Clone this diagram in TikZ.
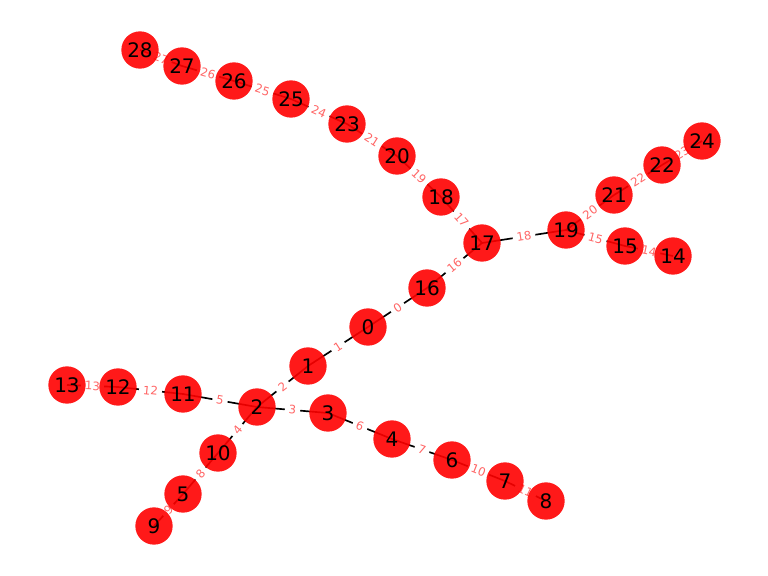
\documentclass[tikz,border=0pt]{standalone}
\usepackage{fontspec}
\setmainfont{DejaVu Sans}
\usetikzlibrary{backgrounds}

\begin{document}
\begin{tikzpicture}[x=0.6pt, y=-0.6pt,
    vtx/.style={circle, fill=red, fill opacity=0.9, text opacity=1,
      minimum size=22.4pt, inner sep=0pt, font=\fontsize{12}{12}\selectfont},
    edge/.style={line width=1pt, black},
    elab/.style={sloped, fill=white, text=red!60, inner sep=2.4pt,
      rounded corners=2pt, font=\fontsize{7}{7}\selectfont}]
         \useasboundingbox (0, 0) rectangle (768, 576);
         \node [vtx] (n0) at (368, 327) {0};
         \node [vtx] (n1) at (308, 366) {1};
         \node [vtx] (n2) at (257, 407) {2};
         \node [vtx] (n3) at (328, 413) {3};
         \node [vtx] (n4) at (392, 439) {4};
         \node [vtx] (n5) at (183, 494) {5};
         \node [vtx] (n6) at (452, 460) {6};
         \node [vtx] (n7) at (505, 481) {7};
         \node [vtx] (n8) at (546, 501) {8};
         \node [vtx] (n9) at (154, 526) {9};
         \node [vtx] (n10) at (218, 453) {10};
         \node [vtx] (n11) at (183, 394) {11};
         \node [vtx] (n12) at (118, 387) {12};
         \node [vtx] (n13) at (67, 385) {13};
         \node [vtx] (n14) at (673, 256) {14};
         \node [vtx] (n15) at (625, 246) {15};
         \node [vtx] (n16) at (427, 288) {16};
         \node [vtx] (n17) at (482, 243) {17};
         \node [vtx] (n18) at (441, 197) {18};
         \node [vtx] (n19) at (566, 230) {19};
         \node [vtx] (n20) at (397, 156) {20};
         \node [vtx] (n21) at (614, 195) {21};
         \node [vtx] (n22) at (662, 165) {22};
         \node [vtx] (n23) at (347, 124) {23};
         \node [vtx] (n24) at (702, 141) {24};
         \node [vtx] (n25) at (291, 99) {25};
         \node [vtx] (n26) at (234, 81) {26};
         \node [vtx] (n27) at (182, 66) {27};
         \node [vtx] (n28) at (140, 50) {28};
         \begin{scope}[on background layer]
         \draw [edge] (n0.center) -- node [elab] {0} (n16.center);
         \draw [edge] (n0.center) -- node [elab] {1} (n1.center);
         \draw [edge] (n1.center) -- node [elab] {2} (n2.center);
         \draw [edge] (n2.center) -- node [elab] {3} (n3.center);
         \draw [edge] (n2.center) -- node [elab] {4} (n10.center);
         \draw [edge] (n2.center) -- node [elab] {5} (n11.center);
         \draw [edge] (n3.center) -- node [elab] {6} (n4.center);
         \draw [edge] (n4.center) -- node [elab] {7} (n6.center);
         \draw [edge] (n10.center) -- node [elab] {8} (n5.center);
         \draw [edge] (n5.center) -- node [elab] {9} (n9.center);
         \draw [edge] (n6.center) -- node [elab] {10} (n7.center);
         \draw [edge] (n7.center) -- node [elab] {11} (n8.center);
         \draw [edge] (n11.center) -- node [elab] {12} (n12.center);
         \draw [edge] (n12.center) -- node [elab] {13} (n13.center);
         \draw [edge] (n15.center) -- node [elab] {14} (n14.center);
         \draw [edge] (n19.center) -- node [elab] {15} (n15.center);
         \draw [edge] (n16.center) -- node [elab] {16} (n17.center);
         \draw [edge] (n17.center) -- node [elab] {17} (n18.center);
         \draw [edge] (n17.center) -- node [elab] {18} (n19.center);
         \draw [edge] (n18.center) -- node [elab] {19} (n20.center);
         \draw [edge] (n19.center) -- node [elab] {20} (n21.center);
         \draw [edge] (n20.center) -- node [elab] {21} (n23.center);
         \draw [edge] (n21.center) -- node [elab] {22} (n22.center);
         \draw [edge] (n22.center) -- node [elab] {23} (n24.center);
         \draw [edge] (n23.center) -- node [elab] {24} (n25.center);
         \draw [edge] (n25.center) -- node [elab] {25} (n26.center);
         \draw [edge] (n26.center) -- node [elab] {26} (n27.center);
         \draw [edge] (n27.center) -- node [elab] {27} (n28.center);
         \end{scope}
\end{tikzpicture}
\end{document}
